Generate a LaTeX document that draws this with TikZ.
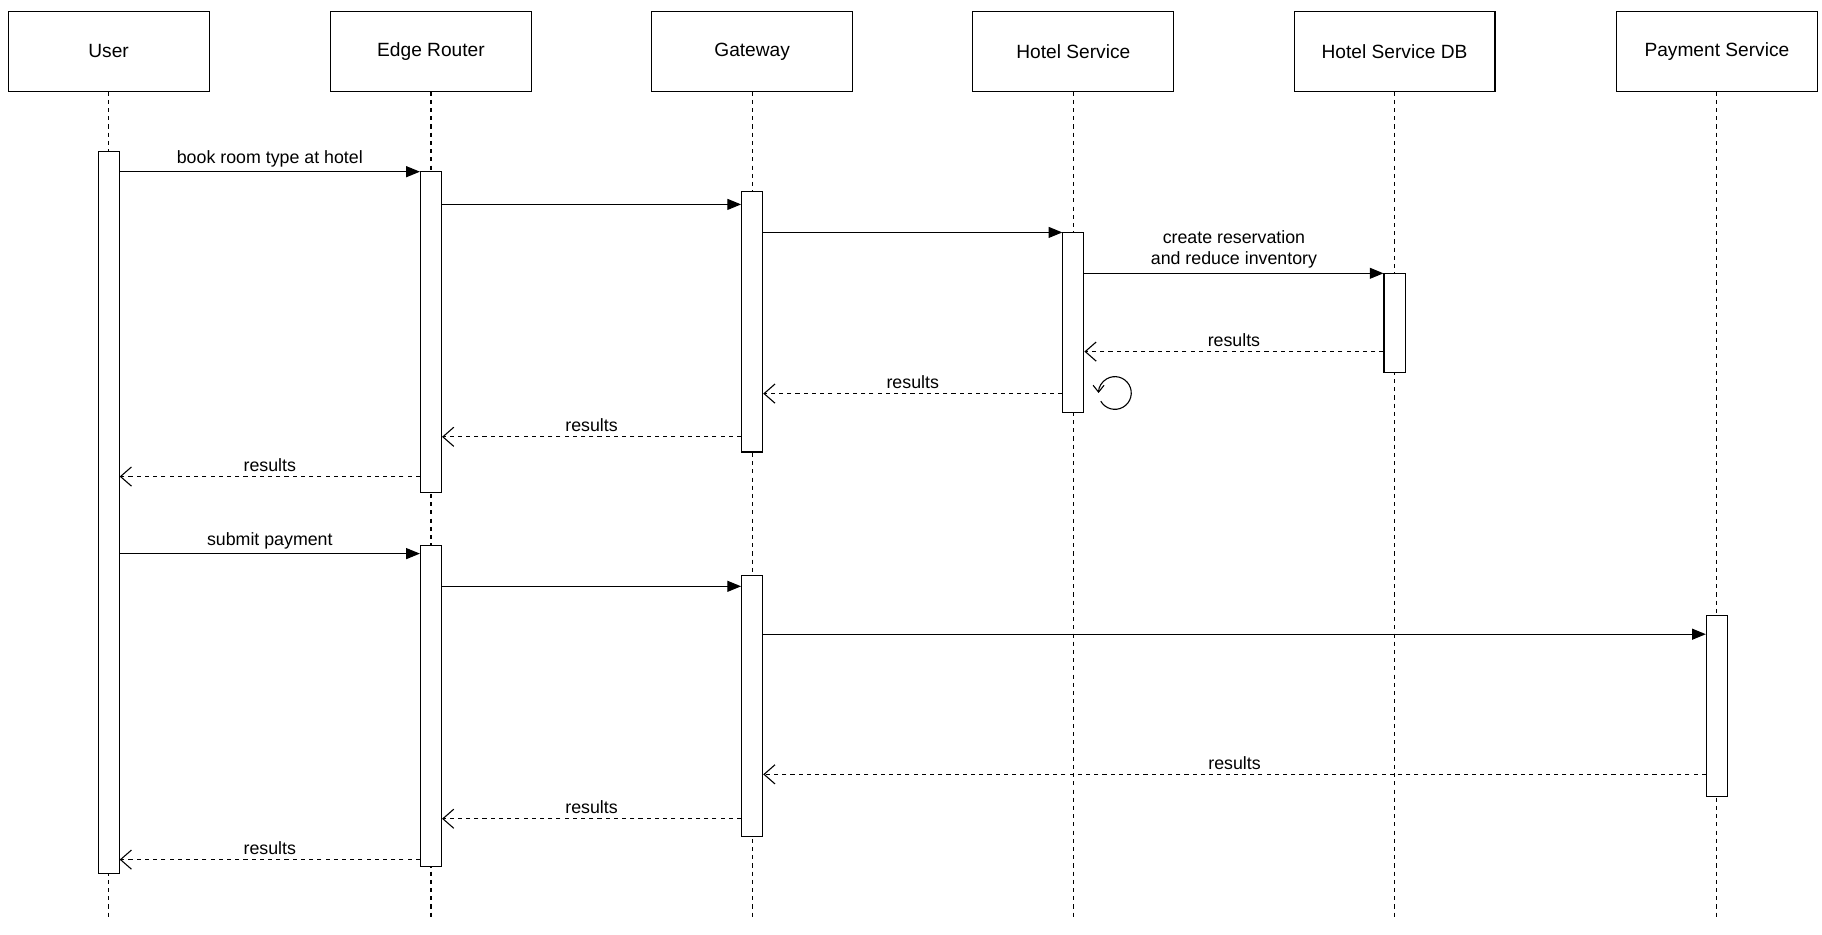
\documentclass[tikz,border=0pt]{standalone}
\usepackage{fontspec}
\setmainfont{Liberation Sans}
\usetikzlibrary{arrows.meta}
\tikzset{
  head/.style={draw, thick, minimum width=172*0.03cm, minimum height=68*0.03cm, font=\fontsize{14}{17}\selectfont},
  life/.style={dashed, thick},
  act/.style={draw, thick, fill=white, minimum width=18*0.03cm, inner sep=0pt},
  call/.style={thick, -{Triangle[length=10pt,width=8pt]}},
  reply/.style={thick, dashed, -{Straight Barb[length=8pt,width=14pt]}},
  lbl/.style={font=\fontsize{13}{16}\selectfont, above, inner sep=3pt, align=center}
}
\newcommand{\actbox}[4]{\node[act, minimum height={(#4-#3)*0.03cm}] (#1) at (#2,{(#3+#4)/2}) {};}
\begin{document}
\begin{tikzpicture}[x=0.03cm, y=-0.03cm]
\useasboundingbox (0,0) rectangle (1560,800);
% participants
\foreach \nm/\px/\txt in {user/93/User, edge/369/Edge Router, gw/644/Gateway, hotel/919/Hotel Service, db/1194/Hotel Service DB, pay/1470/Payment Service}{
  \node[head] (\nm) at (\px,44) {\txt};
  \coordinate (\nm-end) at (\px,785);
  \draw[life] (\nm.south) -- (\nm-end);
}
% activations
\actbox{uA}{93}{130}{748}
\actbox{eA}{369}{147}{422}
\actbox{eB}{369}{467}{742}
\actbox{gA}{644}{164}{387}
\actbox{gB}{644}{493}{716}
\actbox{hA}{919}{199}{353}
\actbox{dA}{1194}{234}{319}
\actbox{pA}{1470}{527}{682}
% booking
\draw[call] (uA.east |- 0,147) -- (eA.west |- 0,147) node[lbl, midway] {book room type at hotel};
\draw[call] (eA.east |- 0,175) -- (gA.west |- 0,175);
\draw[call] (gA.east |- 0,199) -- (hA.west |- 0,199);
\draw[call] (hA.east |- 0,234) -- (dA.west |- 0,234) node[lbl, midway] {create reservation\\and reduce inventory};
\draw[reply] (dA.west |- 0,301) -- (hA.east |- 0,301) node[lbl, midway] {results};
\draw[reply] (hA.west |- 0,337) -- (gA.east |- 0,337) node[lbl, midway] {results};
\draw[reply] (gA.west |- 0,374) -- (eA.east |- 0,374) node[lbl, midway] {results};
\draw[reply] (eA.west |- 0,408) -- (uA.east |- 0,408) node[lbl, midway] {results};
% self loop
\draw[thick, -{Straight Barb[length=5pt,width=8pt]}] (hA.south east) ++(14,-10) arc[start angle=150, end angle=-210+30, radius=14];
% payment
\draw[call] (uA.east |- 0,474) -- (eB.west |- 0,474) node[lbl, midway] {submit payment};
\draw[call] (eB.east |- 0,502) -- (gB.west |- 0,502);
\draw[call] (gB.east |- 0,543) -- (pA.west |- 0,543);
\draw[reply] (pA.west |- 0,663) -- (gB.east |- 0,663) node[lbl, midway] {results};
\draw[reply] (gB.west |- 0,701) -- (eB.east |- 0,701) node[lbl, midway] {results};
\draw[reply] (eB.west |- 0,736) -- (uA.east |- 0,736) node[lbl, midway] {results};
\end{tikzpicture}
\end{document}
